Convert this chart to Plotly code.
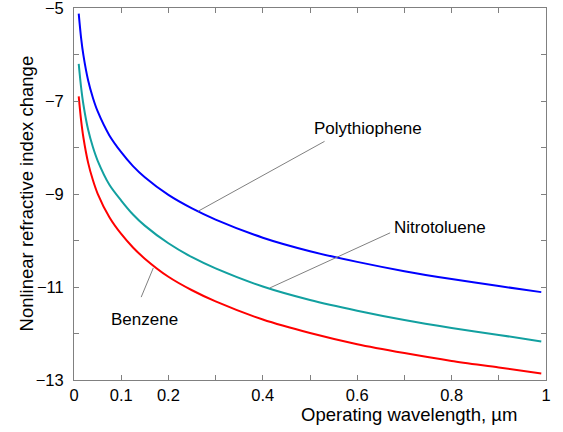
import plotly.graph_objects as go

wavelength = [0.01, 0.015, 0.02, 0.03, 0.04, 0.05, 0.075, 0.1, 0.125, 0.15, 0.2, 0.25,
              0.3, 0.4, 0.5, 0.6, 0.7, 0.8, 0.9, 0.99]
polythiophene = [-5.12, -5.64, -6.02, -6.56, -6.93, -7.22, -7.74, -8.10, -8.40, -8.64,
                 -9.02, -9.31, -9.55, -9.94, -10.23, -10.46, -10.66, -10.83, -10.98, -11.11]
nitrotoluene = [-6.20, -6.70, -7.08, -7.62, -7.99, -8.28, -8.80, -9.14, -9.44, -9.68,
                -10.06, -10.36, -10.60, -10.99, -11.28, -11.51, -11.71, -11.88, -12.03, -12.17]
benzene = [-6.90, -7.41, -7.79, -8.33, -8.70, -8.99, -9.50, -9.86, -10.15, -10.39,
           -10.78, -11.07, -11.31, -11.70, -11.99, -12.23, -12.42, -12.59, -12.73, -12.86]

x_ticks = [0, 0.1, 0.2, 0.3, 0.4, 0.5, 0.6, 0.7, 0.8, 0.9, 1.0]
x_ticktext = ["0", "0.1", "0.2", "", "0.4", "", "0.6", "", "0.8", "", "1"]
y_ticks = [-13, -12, -11, -10, -9, -8, -7, -6, -5]
y_ticktext = ["\u221213", "", "\u221211", "", "\u22129", "", "\u22127", "", "\u22125"]

labels = ["Polythiophene", "Nitrotoluene", "Benzene"]
label_text_pos = [(0.623, -7.59), (0.775, -9.71), (0.150, -11.70)]
leader_from = [(0.263, -9.37), (0.415, -11.02), (0.168, -10.59)]
leader_to = [(0.534, -7.85), (0.673, -9.82), (0.141, -11.25)]

FONT = "Arial, Liberation Sans, sans-serif"

fig = go.Figure()
for ys, col in [(polythiophene, "#0000FF"), (nitrotoluene, "#12A0A0"), (benzene, "#FF0000")]:
    fig.add_trace(go.Scatter(x=wavelength, y=ys, mode="lines",
                             line=dict(color=col, width=2, shape="spline", smoothing=0.8),
                             showlegend=False, hoverinfo="skip", cliponaxis=False))

annotations = []
for name, tp, lf, lt in zip(labels, label_text_pos, leader_from, leader_to):
    annotations.append(dict(x=lf[0], y=lf[1], ax=lt[0], ay=lt[1], xref="x", yref="y",
                            axref="x", ayref="y", text="", showarrow=True, arrowhead=0,
                            arrowwidth=1, arrowcolor="#808080", standoff=0, startstandoff=0))
    annotations.append(dict(x=tp[0], y=tp[1], xref="x", yref="y", text=name, showarrow=False,
                            xanchor="center", yanchor="middle",
                            font=dict(family=FONT, size=17, color="#000000")))

annotations.append(dict(x=0.71, y=-0.093, xref="paper", yref="paper",
                        text="Operating wavelength, \u00b5m", showarrow=False,
                        xanchor="center", yanchor="middle",
                        font=dict(family=FONT, size=18.5, color="#000000")))
annotations.append(dict(x=-0.10, y=0.501, xref="paper", yref="paper",
                        text="Nonlinear refractive index change", showarrow=False, textangle=-90,
                        xanchor="center", yanchor="middle",
                        font=dict(family=FONT, size=18.5, color="#000000")))

axis_common = dict(showgrid=False, zeroline=False, showline=True, linecolor="#808080",
                   linewidth=1, mirror="ticks", ticks="inside", ticklen=5, tickcolor="#808080",
                   automargin=False, ticklabeloverflow="allow",
                   tickfont=dict(family=FONT, size=16.5, color="#000000"))

fig.update_layout(
    width=563, height=432,
    margin=dict(l=74, r=17, t=8, b=52, autoexpand=False),
    paper_bgcolor="white", plot_bgcolor="white",
    xaxis=dict(range=[0, 1], tickmode="array", tickvals=x_ticks, ticktext=x_ticktext,
               **axis_common),
    yaxis=dict(range=[-13, -5], tickmode="array", tickvals=y_ticks, ticktext=y_ticktext,
               ticklabelstandoff=6, **axis_common),
    annotations=annotations,
)

fig.write_html("out.html", config={"displayModeBar": False},
               post_script="document.body.style.margin='0';document.body.style.overflow='hidden';")
